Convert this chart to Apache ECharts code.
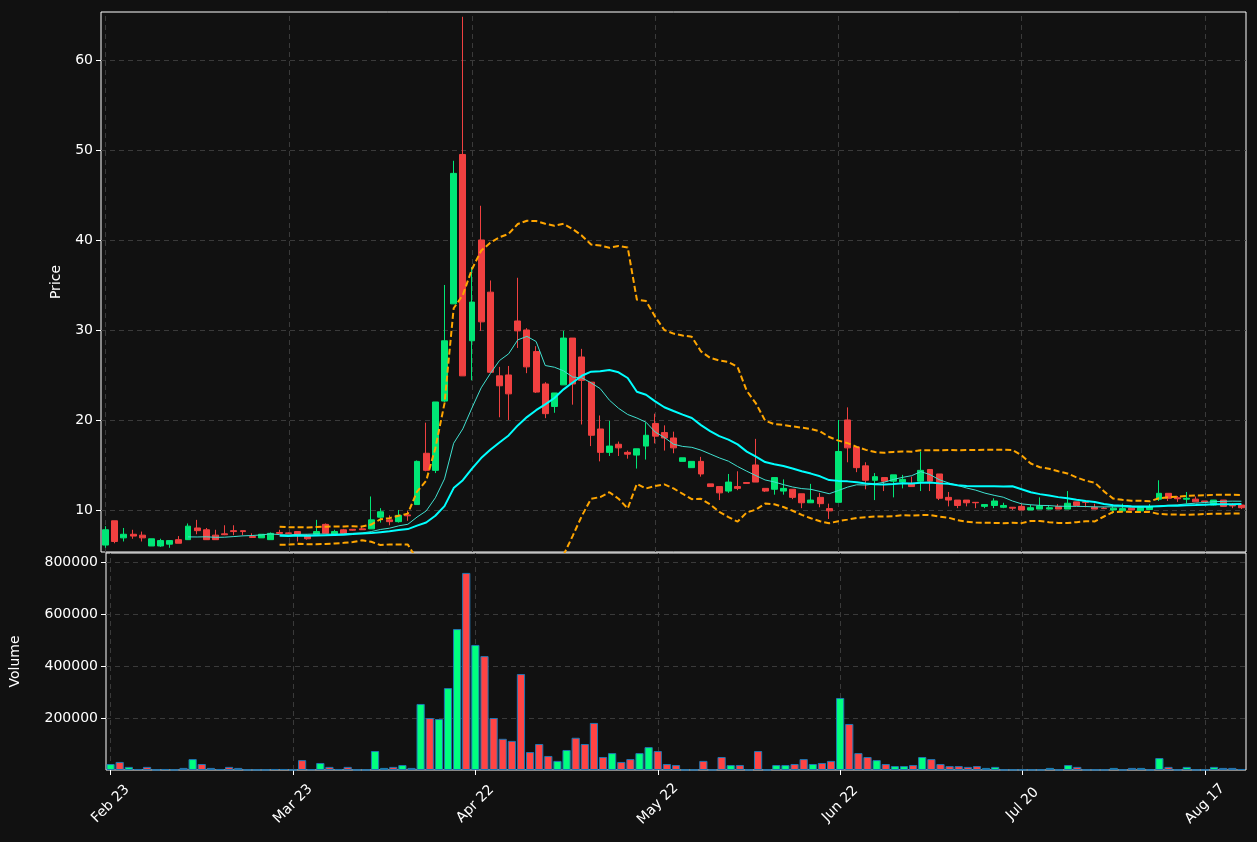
<!DOCTYPE html>
<html><head><meta charset="utf-8">
<script src="https://cdn.jsdelivr.net/npm/echarts@6/dist/echarts.min.js"></script>
<style>html,body{margin:0;padding:0;background:#111111;}#c{width:1257px;height:842px;}</style>
</head><body><div id="c"></div>
<script>
const tickLabels = ['Feb 23','Mar 23','Apr 22','May 22','Jun 22','Jul 20','Aug 17'];
const opens = [6.1,8.8,6.9,7.3,7.2,6.0,6.0,6.2,6.7,6.7,8.0,7.8,7.2,7.35,7.7,7.7,7.05,6.9,6.7,7.5,
7.45,7.6,7.2,7.3,8.4,7.3,7.8,7.85,7.9,7.9,9.2,8.9,8.7,9.45,10.6,16.3,14.4,22.1,32.9,49.5,
28.8,40.0,34.2,24.9,25.0,31.0,30.0,27.6,24.0,21.5,23.9,29.1,27.0,24.2,19.0,16.4,17.3,16.4,16.1,17.1,
19.6,18.6,18.0,15.4,14.7,15.4,12.9,12.6,12.1,12.6,13.05,15.0,12.4,12.3,12.1,12.3,11.8,10.8,11.4,10.15,
10.85,20.0,17.0,14.9,13.3,13.6,13.2,13.1,12.9,13.2,14.5,14.0,11.4,11.1,11.1,10.85,10.4,10.5,10.3,10.3,
10.4,10.0,10.1,10.1,10.4,10.1,10.9,10.9,10.3,10.2,10.0,9.9,10.2,9.9,10.05,11.2,11.85,11.35,11.2,11.2,
11.0,10.55,11.1,10.5,10.55];
const closes = [7.8,6.5,7.3,7.1,6.9,6.8,6.6,6.6,6.3,8.2,7.7,6.7,6.7,7.25,7.6,7.6,6.95,7.3,7.4,7.4,
7.4,7.3,6.8,7.6,7.4,7.6,7.4,7.75,7.8,8.9,9.8,8.7,9.4,9.35,15.4,14.4,22.0,28.8,47.4,24.9,
33.1,30.9,25.3,23.8,22.9,29.9,25.9,23.1,20.7,23.0,29.1,24.0,24.4,18.3,16.4,17.1,16.9,16.2,16.8,18.3,
18.2,18.0,16.9,15.8,15.4,14.0,12.6,11.9,13.1,12.4,12.95,13.1,12.1,13.6,12.4,11.4,10.8,11.1,10.7,9.9,
16.5,16.9,14.7,13.3,13.7,13.2,13.9,13.4,12.6,14.4,13.2,11.3,11.1,10.5,10.8,10.8,10.6,11.0,10.5,10.2,
10.0,10.25,10.45,10.25,10.1,10.75,10.5,10.85,10.1,10.15,10.2,10.15,10.0,10.25,10.35,11.85,11.3,11.25,11.3,10.9,
10.9,11.1,10.4,10.45,10.25];
const highs = [8.2,8.8,8.0,7.8,7.6,6.8,6.8,6.6,7.1,8.5,8.9,8.0,7.8,8.3,8.3,7.7,7.4,7.3,7.5,7.8,
7.5,7.6,7.3,8.9,8.5,7.8,7.9,7.85,8.1,11.5,10.2,9.4,10.0,9.9,15.5,19.7,22.0,35.0,48.8,64.8,
37.0,43.8,35.5,25.9,26.0,35.8,30.2,28.2,24.2,23.0,29.9,29.1,27.9,24.2,20.5,19.9,17.6,16.6,16.8,19.7,
20.7,19.4,18.7,15.8,15.4,15.9,12.9,12.6,14.0,14.3,13.05,17.9,12.4,13.6,13.4,12.3,11.8,12.9,11.9,10.7,
20.0,21.4,17.0,15.3,14.1,13.6,13.9,13.9,13.7,16.5,14.5,14.0,12.0,11.1,11.1,10.85,10.6,11.3,10.8,10.3,
10.7,10.6,11.4,10.55,10.65,12.1,10.9,10.9,10.7,10.3,10.4,10.7,10.2,10.3,10.65,13.3,11.85,11.55,12.0,11.5,
11.0,11.1,11.1,10.75,10.6];
const lows = [5.8,6.3,6.5,6.8,6.5,6.0,5.9,5.8,6.3,6.7,7.3,6.7,6.7,7.2,7.2,7.2,6.9,6.9,6.7,7.3,
7.3,6.5,6.7,7.3,7.4,7.3,7.4,7.7,7.8,7.9,8.6,8.3,8.6,8.8,10.6,14.3,14.1,22.0,32.9,24.9,
24.4,29.9,25.3,20.3,20.0,28.0,25.2,23.0,20.2,20.8,23.9,21.7,19.5,17.1,15.4,16.0,16.0,15.7,14.6,15.6,
17.4,16.6,16.3,15.4,14.7,13.7,12.6,11.1,11.9,12.2,12.95,13.1,12.0,11.7,11.7,11.2,10.2,10.8,10.3,9.0,
10.85,15.3,14.2,12.3,11.1,12.1,11.4,12.4,12.6,12.1,12.1,11.1,10.4,10.2,10.4,10.2,10.2,10.2,10.2,10.0,
10.0,10.0,10.1,10.05,10.1,10.1,10.5,10.3,10.1,10.1,9.6,9.8,10.0,9.9,10.0,11.0,11.0,10.9,10.7,10.9,
10.9,10.5,10.4,10.2,10.1];
const volumes = [23000,31000,12000,4000,12000,1000,4000,1000,8000,42000,23000,8000,4000,12000,8000,1000,1000,1000,4000,4000,
1000,38000,3000,27000,12000,4000,12000,1000,1000,73000,8000,12000,19000,8000,254000,200000,196000,315000,542000,758000,
481000,438000,200000,120000,112000,369000,69000,100000,54000,35000,77000,124000,100000,181000,50000,65000,31000,42000,65000,88000,
73000,23000,19000,1000,1000,35000,1000,50000,19000,19000,1000,73000,1000,19000,19000,23000,42000,23000,27000,35000,
277000,177000,65000,50000,38000,23000,15000,15000,19000,50000,42000,23000,15000,15000,12000,15000,8000,12000,1000,1000,
1000,1000,1000,8000,1000,19000,12000,1000,1000,1000,8000,1000,8000,8000,1000,46000,12000,1000,12000,1000,
1000,12000,8000,8000,4000];
const tickIdx = [0,20,40,60,80,100,120];

const UP='#00e676', DOWN='#f04040', VUP='#00ff7f', VDOWN='#ff4444';
const cats = closes.map((_, i) => i);
const ohlc = closes.map((c, i) => [opens[i], c, lows[i], highs[i]]);
function ma(w){return closes.map((_,i)=>{if(i<w-1)return '-';let s=0;for(let k=i-w+1;k<=i;k++)s+=closes[k];return +(s/w).toFixed(4);});}
const ma10 = ma(10), ma20 = ma(20);
function band(sign){return closes.map((_,i)=>{if(i<19)return '-';let m=ma20[i],s=0;for(let k=i-19;k<=i;k++)s+=(closes[k]-m)**2;return +(m+sign*2*Math.sqrt(s/19)).toFixed(4);});}
const upper = band(1), lower = band(-1);
const volData = volumes.map((v,i)=>({value:v,itemStyle:{color: closes[i]>=opens[i]?VUP:VDOWN}}));

const txt = {color:'#ffffff', fontFamily:'DejaVu Sans', fontSize:14};
const gridLineStyle = {color:'#3a3a3a', type:[5,4], width:1};
const vLines = {silent:true, z:0, symbol:'none', label:{show:false}, lineStyle:gridLineStyle, data:tickIdx.map(i=>({xAxis:i}))};
const chart = echarts.init(document.getElementById('c'));
chart.setOption({
  backgroundColor:'#111111',
  animation:false,
  grid:[
    {left:101, right:11, top:12, height:540, show:true, borderColor:'#ffffff', borderWidth:1, backgroundColor:'transparent'},
    {left:101, right:11, top:553, height:217, show:true, borderColor:'#ffffff', borderWidth:1, backgroundColor:'transparent'}
  ],
  xAxis:[
    {type:'category', gridIndex:0, data:cats, boundaryGap:true, axisLine:{show:false}, axisTick:{show:false}, axisLabel:{show:false}, splitLine:{show:false}},
    {type:'category', gridIndex:1, data:cats, boundaryGap:true, axisLine:{show:false},
     axisTick:{show:true, interval:19, alignWithLabel:true, length:5, lineStyle:{color:'#fff'}},
     axisLabel:{...txt, interval:19, rotate:45, margin:34, align:'center', verticalAlign:'middle', formatter:(v)=>tickLabels[Math.round(v/20)]||''},
     splitLine:{show:false}}
  ],
  yAxis:[
    {type:'value', gridIndex:0, min:5.33, max:65.33, name:'Price', nameLocation:'middle', nameGap:38, nameTextStyle:txt,
     axisLine:{show:false}, axisTick:{show:true, length:5, lineStyle:{color:'#fff'}, customValues:[10,20,30,40,50,60]},
     axisLabel:{...txt, margin:8, customValues:[10,20,30,40,50,60]},
     splitLine:{show:true, lineStyle:gridLineStyle}},
    {type:'value', gridIndex:1, min:0, max:834600, name:'Volume', nameLocation:'middle', nameGap:84, nameTextStyle:txt,
     axisLine:{show:false}, axisTick:{show:true, length:5, lineStyle:{color:'#fff'}, customValues:[200000,400000,600000,800000]},
     axisLabel:{...txt, margin:8, customValues:[200000,400000,600000,800000], formatter:(v)=>String(v)},
     splitLine:{show:true, lineStyle:gridLineStyle}}
  ],
  series:[
    {type:'line', xAxisIndex:0, yAxisIndex:0, data:[], z:0, silent:true, markLine:vLines},
    {type:'line', xAxisIndex:1, yAxisIndex:1, data:[], z:0, silent:true, markLine:vLines},
    {type:'candlestick', xAxisIndex:0, yAxisIndex:0, data:ohlc, barWidth:'70%', z:2,
     itemStyle:{color:UP, color0:DOWN, borderColor:UP, borderColor0:DOWN, borderWidth:1}},
    {type:'line', xAxisIndex:0, yAxisIndex:0, data:ma10, showSymbol:false, lineStyle:{color:'#40e0d0', width:1}, z:3},
    {type:'line', xAxisIndex:0, yAxisIndex:0, data:ma20, showSymbol:false, lineStyle:{color:'#00ffff', width:2}, z:3},
    {type:'line', xAxisIndex:0, yAxisIndex:0, data:upper, showSymbol:false, clip:true, lineStyle:{color:'#ffa500', width:2, type:[6,3]}, z:3},
    {type:'line', xAxisIndex:0, yAxisIndex:0, data:lower, showSymbol:false, clip:true, lineStyle:{color:'#ffa500', width:2, type:[6,3]}, z:3},
    {type:'bar', xAxisIndex:1, yAxisIndex:1, data:volData, barWidth:'90%', z:2, itemStyle:{borderColor:'#1f77b4', borderWidth:1}}
  ]
});
</script></body></html>
